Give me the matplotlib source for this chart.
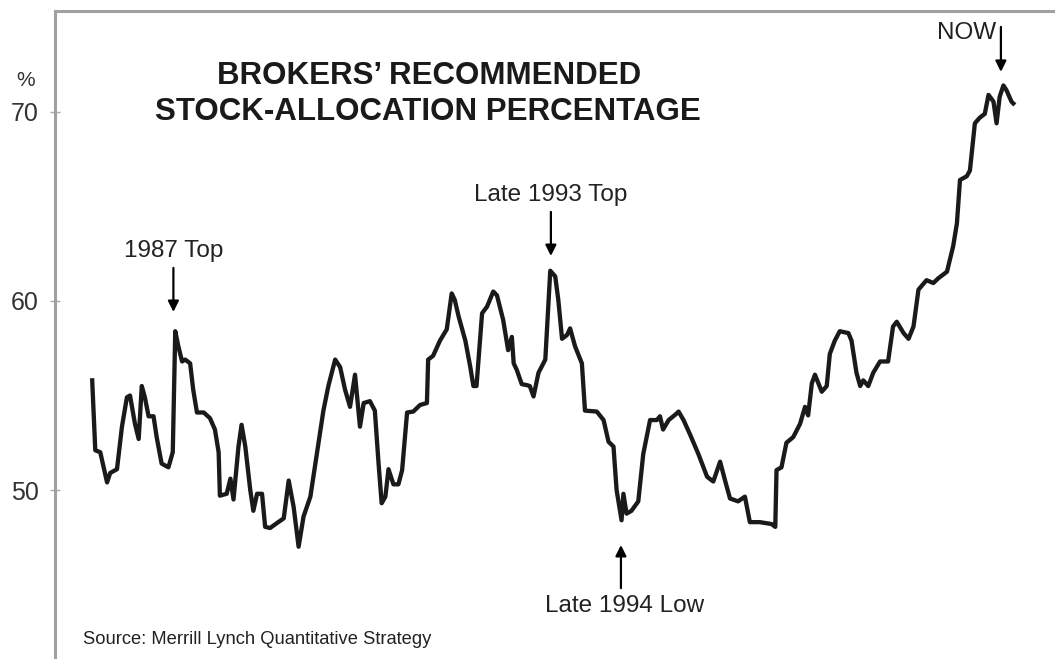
import matplotlib
matplotlib.use("Agg")
import matplotlib.pyplot as plt

years = [
    1986.40, 1986.45, 1986.53, 1986.64, 1986.69, 1986.80, 1986.88, 1986.96, 1987.01, 1987.09,
    1987.15, 1987.20, 1987.25, 1987.31, 1987.39, 1987.44, 1987.52, 1987.63, 1987.70, 1987.74,
    1987.79, 1987.85, 1987.90, 1987.98, 1988.03, 1988.09, 1988.20, 1988.30, 1988.38, 1988.44,
    1988.46, 1988.57, 1988.63, 1988.68, 1988.76, 1988.81, 1988.87, 1988.95, 1989.00, 1989.06,
    1989.14, 1989.19, 1989.27, 1989.38, 1989.49, 1989.57, 1989.65, 1989.73, 1989.81, 1989.92,
    1990.02, 1990.13, 1990.21, 1990.32, 1990.40, 1990.48, 1990.56, 1990.64, 1990.72, 1990.78,
    1990.88, 1990.96, 1991.02, 1991.07, 1991.13, 1991.18, 1991.26, 1991.34, 1991.40, 1991.48,
    1991.58, 1991.69, 1991.80, 1991.82, 1991.90, 1992.01, 1992.12, 1992.20, 1992.25, 1992.31,
    1992.42, 1992.50, 1992.55, 1992.60, 1992.69, 1992.77, 1992.87, 1992.93, 1993.03, 1993.11,
    1993.17, 1993.20, 1993.25, 1993.33, 1993.41, 1993.46, 1993.52, 1993.60, 1993.71, 1993.79,
    1993.87, 1993.92, 1993.98, 1994.06, 1994.11, 1994.19, 1994.30, 1994.35, 1994.54, 1994.65,
    1994.73, 1994.81, 1994.86, 1994.94, 1994.97, 1995.02, 1995.10, 1995.21, 1995.29, 1995.40,
    1995.51, 1995.56, 1995.61, 1995.70, 1995.83, 1995.86, 1995.94, 1996.05, 1996.18, 1996.32,
    1996.42, 1996.53, 1996.61, 1996.69, 1996.82, 1996.93, 1997.01, 1997.17, 1997.36, 1997.42,
    1997.44, 1997.52, 1997.60, 1997.71, 1997.82, 1997.90, 1997.95, 1998.01, 1998.06, 1998.17,
    1998.25, 1998.30, 1998.38, 1998.46, 1998.60, 1998.65, 1998.73, 1998.79, 1998.84, 1998.92,
    1999.00, 1999.11, 1999.24, 1999.32, 1999.38, 1999.49, 1999.57, 1999.65, 1999.73, 1999.86,
    1999.97, 2000.05, 2000.19, 2000.29, 2000.35, 2000.40, 2000.51, 2000.56, 2000.64, 2000.72,
    2000.80, 2000.86, 2000.94, 2000.99, 2001.04, 2001.10, 2001.15, 2001.23, 2001.26,
]

# recommended stock allocation, %
pct = [
    55.8, 52.1, 52.0, 50.4, 50.9, 51.1, 53.35, 54.9, 55.0, 53.5,
    52.7, 55.5, 54.9, 53.9, 53.9, 52.8, 51.4, 51.2, 52.0, 58.4,
    57.6, 56.8, 56.9, 56.7, 55.3, 54.1, 54.1, 53.8, 53.2, 52.0,
    49.7, 49.8, 50.6, 49.5, 52.3, 53.45, 52.3, 50.0, 48.9, 49.8,
    49.8, 48.05, 47.99, 48.25, 48.5, 50.5, 49.1, 47.0, 48.6, 49.65,
    51.8, 54.2, 55.5, 56.9, 56.5, 55.3, 54.4, 56.1, 53.35, 54.6,
    54.7, 54.2, 51.4, 49.3, 49.65, 51.1, 50.3, 50.3, 51.05, 54.1,
    54.15, 54.5, 54.6, 56.9, 57.1, 57.9, 58.5, 60.4, 60.05, 59.2,
    57.9, 56.5, 55.5, 55.5, 59.35, 59.7, 60.5, 60.3, 59.0, 57.4,
    58.1, 56.7, 56.35, 55.6, 55.55, 55.5, 54.95, 56.2, 56.9, 61.6,
    61.3, 60.05, 58.0, 58.2, 58.55, 57.6, 56.7, 54.2, 54.15, 53.7,
    52.55, 52.3, 50.0, 48.4, 49.8, 48.75, 48.9, 49.4, 51.9, 53.7,
    53.7, 53.9, 53.2, 53.7, 54.05, 54.15, 53.7, 52.9, 51.9, 50.7,
    50.45, 51.5, 50.5, 49.55, 49.4, 49.65, 48.3, 48.3, 48.2, 48.05,
    51.05, 51.2, 52.5, 52.8, 53.5, 54.4, 53.95, 55.65, 56.1, 55.2,
    55.5, 57.2, 57.9, 58.4, 58.3, 57.9, 56.2, 55.5, 55.8, 55.5,
    56.2, 56.8, 56.8, 58.65, 58.9, 58.3, 58.0, 58.65, 60.6, 61.1,
    60.95, 61.2, 61.55, 62.9, 64.1, 66.4, 66.6, 66.9, 69.4, 69.7,
    69.9, 70.9, 70.55, 69.4, 70.8, 71.4, 71.15, 70.55, 70.45,
]

yticks = [50, 60, 70]

# (label, text x, text y, arrow tail y, arrow tip y)
notes = [
    ("1987 Top", 1987.71, 62.65, 61.75, 59.42),
    ("Late 1993 Top", 1993.80, 65.6, 64.71, 62.38),
]

fig = plt.figure(figsize=(10.55, 6.59), dpi=100)
ax = fig.add_axes([55 / 1055, 0, 1.0, 1 - 11 / 659])

ax.plot(years, pct, color="#1a1a1a", lw=3.1, solid_joinstyle="round")

ax.set_xlim(1985.80, 2002.82)
ax.set_ylim(41.06, 75.34)
ax.set_xticks([])
ax.set_yticks(yticks)
ax.set_yticklabels([str(t) for t in yticks], fontsize=18,
                   family="Liberation Sans", color="#333333")
ax.tick_params(axis="y", direction="inout", length=7, width=1,
               color="#aaaaaa", pad=8)

for side in ("right", "bottom"):
    ax.spines[side].set_visible(False)
for side in ("left", "top"):
    ax.spines[side].set_color("#a0a0a0")
    ax.spines[side].set_linewidth(2.2)

arrow = dict(arrowstyle="-|>", lw=1.6, color="black", mutation_scale=16,
             shrinkA=0, shrinkB=0)
for label, x, ty, tail, tip in notes:
    ax.text(x, ty, label, ha="center", va="center", fontsize=17.5,
            family="Liberation Sans", color="#222222")
    ax.annotate("", xy=(x, tip), xytext=(x, tail), arrowprops=arrow)

# late 1994 low, arrow from below
ax.annotate("", xy=(1994.93, 47.09), xytext=(1994.93, 44.81), arrowprops=arrow)
ax.text(1994.99, 43.86, "Late 1994 Low", ha="center", va="center",
        fontsize=17.5, family="Liberation Sans", color="#222222")

# NOW
ax.annotate("", xy=(2001.06, 72.12), xytext=(2001.06, 74.5), arrowprops=arrow)
ax.text(2000.98, 74.18, "NOW", ha="right", va="center", fontsize=17.5,
        family="Liberation Sans", color="#222222")

title_kw = dict(ha="center", va="center", fontsize=22.5, fontweight="bold",
                family="Liberation Sans", color="#1a1a1a")
fig.text(429 / 1055, 1 - 76 / 659, "BROKERS\u2019 RECOMMENDED", **title_kw)
fig.text(428 / 1055, 1 - 112 / 659, "STOCK-ALLOCATION PERCENTAGE", **title_kw)

fig.text(26 / 1055, 1 - 81 / 659, "%", ha="center", va="center", fontsize=15,
         family="Liberation Sans", color="#333333")

fig.text(83 / 1055, 1 - 640 / 659, "Source: Merrill Lynch Quantitative Strategy",
         ha="left", va="center", fontsize=13.2, family="Liberation Sans",
         color="#222222")

fig.savefig("out.png", dpi=100)
